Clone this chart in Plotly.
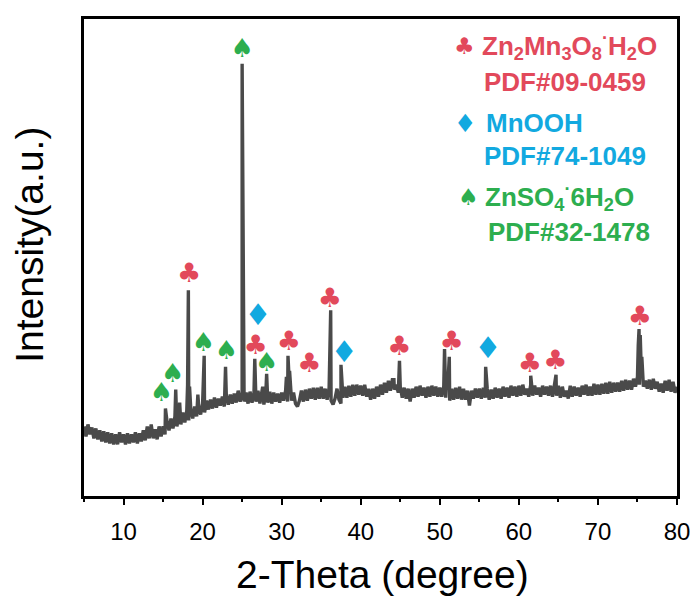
import plotly.graph_objects as go

# ---------------- data ----------------
# background trace, 0.25 degree steps from 5 to 80
bg_start = 5.0
bg_step = 0.25
bg_intensity = [
    70, 60, 72, 62, 69, 58, 68, 57, 66, 55, 65, 54, 64, 53, 63, 52, 62, 52, 64, 54,
    62, 52, 63, 53, 62, 54, 64, 53, 63, 55, 66, 56, 70, 58, 72, 58, 67, 57, 70, 60,
    70, 62, 75, 66, 78, 68, 80, 70, 82, 72, 84, 74, 86, 76, 88, 78, 90, 80, 91, 82,
    93, 84, 96, 87, 97, 88, 99, 89, 98, 91, 100, 90, 101, 92, 102, 93, 103, 94, 104, 95,
    103, 95, 104, 93, 105, 94, 104, 95, 106, 93, 103, 92, 104, 94, 105, 93, 104, 95, 103, 94,
    104, 96, 106, 95, 107, 96, 104, 93, 90, 96, 106, 95, 107, 96, 108, 98, 109, 97, 109, 98,
    110, 98, 108, 97, 109, 96, 92, 98, 108, 97, 93, 99, 110, 99, 111, 100, 112, 101, 112, 102,
    111, 101, 112, 100, 108, 97, 108, 98, 110, 100, 112, 102, 114, 104, 116, 106, 117, 107, 112, 104,
    110, 99, 109, 98, 108, 95, 108, 99, 110, 100, 111, 101, 109, 99, 110, 100, 111, 101, 110, 100,
    109, 100, 110, 99, 109, 96, 108, 97, 109, 98, 110, 97, 108, 97, 106, 91, 106, 98, 108, 99,
    108, 98, 109, 99, 108, 97, 107, 98, 109, 99, 108, 98, 110, 100, 109, 99, 111, 101, 110, 100,
    111, 101, 112, 102, 108, 100, 112, 101, 111, 102, 109, 100, 111, 102, 110, 101, 111, 100, 112, 101,
    111, 99, 110, 100, 106, 98, 111, 100, 110, 101, 109, 100, 111, 102, 112, 101, 110, 101, 113, 102,
    112, 102, 113, 103, 114, 103, 115, 104, 114, 105, 114, 105, 116, 106, 117, 107, 116, 107, 118, 110,
    120, 112, 121, 110, 116, 108, 117, 107, 118, 108, 115, 105, 113, 104, 116, 106, 117, 105, 115, 104,
    110,
]
# sharp diffraction peaks (2-theta, intensity)
peak_2theta = [15.3, 16.6, 17.1, 18.1, 18.2, 18.35, 19.4, 20.2, 22.9, 24.5, 25.0,
               26.6, 27.6, 28.1, 30.6, 30.8, 31.0, 36.2, 37.5, 44.2, 44.9,
               50.6, 50.85, 51.2, 55.8, 61.5, 64.7, 75.1, 75.2, 75.35, 75.55]
peak_intensity = [88, 107, 94, 112, 207, 110, 102, 141, 130, 106, 435,
                  138, 110, 123, 120, 141, 126, 187, 132, 117, 136,
                  148, 114, 140, 130, 121, 122, 152, 168, 162, 140]

# phase markers
club_x = [18.3, 26.7, 30.9, 33.5, 36.1, 44.9, 51.5, 61.4, 64.6, 75.3]
club_y = [222, 150, 154, 132, 197, 149, 154, 132, 135, 179]
diamond_x = [27.0, 37.9, 56.1]
diamond_y = [180, 142, 146]
spade_x = [14.8, 16.2, 20.1, 23.0, 25.0, 28.1]
spade_y = [102, 121, 152, 144, 448, 132]

x_ticks = [10, 20, 30, 40, 50, 60, 70, 80]

RED = "#E2495B"
BLUE = "#12A9E0"
GREEN = "#2DAE4F"

# ---------------- build trace ----------------
bg_x = [bg_start + i * bg_step for i in range(len(bg_intensity))]
pts = sorted(list(zip(bg_x, bg_intensity)) + list(zip(peak_2theta, peak_intensity)))
tx = [p[0] for p in pts]
ty = [p[1] for p in pts]

fig = go.Figure()
fig.add_trace(go.Scatter(x=tx, y=ty, mode="lines",
                         line=dict(color="#4a4a4a", width=3.4), hoverinfo="skip",
                         showlegend=False))

sym_font = "DejaVu Sans"
fig.add_trace(go.Scatter(x=club_x, y=club_y, mode="text", text=["♣"] * len(club_x),
                         textfont=dict(family=sym_font, size=27, color=RED),
                         textposition="middle center", showlegend=False))
fig.add_trace(go.Scatter(x=diamond_x, y=diamond_y, mode="text", text=["♦"] * len(diamond_x),
                         textfont=dict(family=sym_font, size=30, color=BLUE),
                         textposition="middle center", showlegend=False))
fig.add_trace(go.Scatter(x=spade_x, y=spade_y, mode="text", text=["♠"] * len(spade_x),
                         textfont=dict(family=sym_font, size=26, color=GREEN),
                         textposition="middle center", showlegend=False))

# ---------------- legend block (annotations) ----------------
# page body has an 8px margin; plot area on screen: x 84..680, y 16..496
L = 84.0
W = 596.0
H = 480.0

def px2paper(px, py):
    return (px - L) / W, (496.0 - py) / H

legend_font = "Liberation Sans, Arial, sans-serif"
sym_items = [(466, 43, "♣", RED, 23), (467, 121, "♦", BLUE, 25), (470, 195, "♠", GREEN, 23)]
for sx, sy, ch, col, sz in sym_items:
    ax_, ay_ = px2paper(sx, sy)
    fig.add_annotation(x=ax_, y=ay_, xref="paper", yref="paper", text=ch, showarrow=False,
                       font=dict(family=sym_font, size=sz, color=col),
                       xanchor="center", yanchor="middle")

text_items = [
    (482, 43, "<b>Zn<sub>2</sub>Mn<sub>3</sub>O<sub>8</sub><sup>·</sup>H<sub>2</sub>O</b>", RED),
    (484, 79, "<b>PDF#09-0459</b>", RED),
    (486, 121, "<b>MnOOH</b>", BLUE),
    (484, 154, "<b>PDF#74-1049</b>", BLUE),
    (485, 195, "<b>ZnSO<sub>4</sub><sup>·</sup>6H<sub>2</sub>O</b>", GREEN),
    (488, 230, "<b>PDF#32-1478</b>", GREEN),
]
for tx_, ty_, txt, col in text_items:
    ax_, ay_ = px2paper(tx_, ty_)
    fig.add_annotation(x=ax_, y=ay_, xref="paper", yref="paper", text=txt, showarrow=False,
                       font=dict(family=legend_font, size=26, color=col),
                       xanchor="left", yanchor="middle")

# axis titles
ax_, ay_ = px2paper(384, 575)
fig.add_annotation(x=ax_, y=ay_, xref="paper", yref="paper", text="2-Theta (degree)",
                   showarrow=False, font=dict(family=legend_font, size=39, color="black"),
                   xanchor="center", yanchor="middle")
ax_, ay_ = px2paper(29, 243)
fig.add_annotation(x=ax_, y=ay_, xref="paper", yref="paper", text="Intensity(a.u.)",
                   showarrow=False, textangle=-90,
                   font=dict(family=legend_font, size=39, color="black"),
                   xanchor="center", yanchor="middle")

fig.update_layout(
    width=690, height=591,
    margin=dict(l=76, r=18, t=8, b=103),
    paper_bgcolor="white", plot_bgcolor="white",
    showlegend=False,
)
fig.update_xaxes(range=[5, 80], tickvals=x_ticks, ticktext=[str(v) for v in x_ticks],
                 showline=True, linecolor="black", linewidth=2.5, mirror=True,
                 ticks="outside", ticklen=6, tickwidth=2, tickcolor="black",
                 ticklabelstandoff=6,
                 minor=dict(tickvals=[5, 15, 25, 35, 45, 55, 65, 75], ticks="outside",
                            ticklen=3, tickwidth=1.5, tickcolor="black"),
                 showgrid=False, zeroline=False,
                 tickfont=dict(family=legend_font, size=24, color="black"))
fig.update_yaxes(range=[0, 480], showline=True, linecolor="black", linewidth=2.5, mirror=True,
                 showticklabels=False, ticks="", showgrid=False, zeroline=False)

fig.write_html("out.html")
